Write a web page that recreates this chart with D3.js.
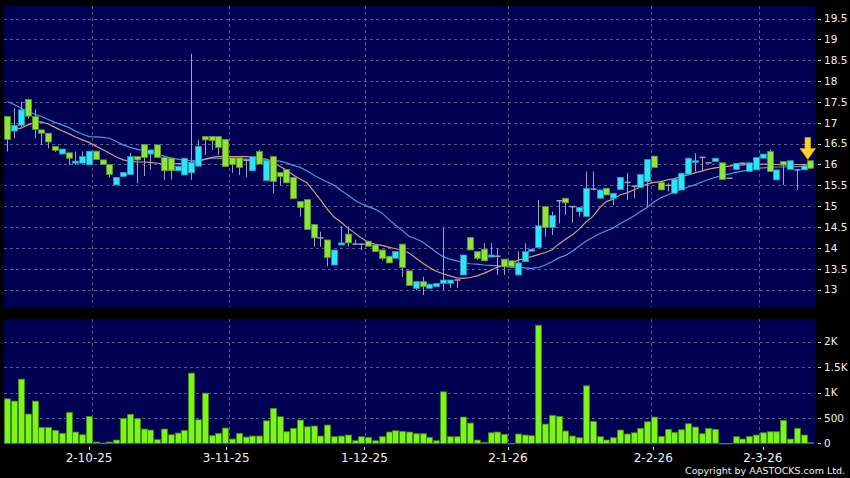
<!DOCTYPE html>
<html><head><meta charset="utf-8">
<script src="https://cdn.jsdelivr.net/npm/d3@7"></script>
<style>html,body{margin:0;padding:0;background:#000;}svg{display:block;}</style>
</head><body>
<svg id="chart" width="850" height="478"></svg>
<script>
// ---- data ----
const opens  = [17.15,16.80,16.94,17.56,17.15,16.83,16.75,16.43,16.25,16.28,16.03,16.03,15.99,16.32,16.11,16.00,15.51,15.71,15.76,16.19,16.48,16.25,16.47,16.17,16.15,15.85,15.75,15.80,15.96,16.67,16.67,16.67,16.60,16.16,16.16,16.10,15.85,16.31,15.61,16.19,15.81,15.88,15.69,15.11,15.16,14.56,14.24,14.19,13.59,14.07,14.33,14.09,14.09,14.16,14.07,13.95,13.80,13.75,14.09,13.45,13.03,13.19,13.03,13.07,13.15,13.15,13.23,13.35,14.25,13.91,13.97,13.78,13.80,13.73,13.69,13.35,13.67,13.92,14.01,14.99,14.49,15.13,15.19,14.99,14.87,14.75,15.41,15.19,15.43,15.19,15.40,15.57,15.48,15.45,15.59,16.20,15.57,15.50,15.31,15.39,15.77,16.05,16.17,16.04,16.07,16.04,15.67,15.88,16.03,15.83,15.87,16.15,16.31,15.63,16.07,15.88,15.87,15.87,16.09];
const highs  = [17.15,17.35,17.50,17.58,17.32,16.83,16.75,16.43,16.37,16.28,16.31,16.31,16.32,16.32,16.11,16.00,15.69,15.81,16.28,16.19,16.48,16.35,16.47,16.17,16.15,15.96,16.15,18.65,16.59,16.67,16.67,16.67,16.60,16.16,16.16,16.10,16.19,16.35,16.09,16.19,15.81,15.88,15.69,15.11,15.16,14.56,14.39,14.19,13.95,14.52,14.51,14.20,14.09,14.16,14.07,13.95,13.80,13.91,14.09,13.45,13.19,13.31,13.13,13.15,14.48,13.23,13.23,13.83,14.25,13.91,14.11,14.11,13.99,13.73,13.69,13.91,14.11,13.97,15.15,14.99,14.87,15.15,15.19,14.99,14.97,15.83,15.83,15.39,15.43,15.31,15.69,15.80,15.48,15.76,16.12,16.20,15.57,15.55,15.65,15.79,16.15,16.27,16.17,16.04,16.15,16.04,15.67,16.03,16.03,16.04,16.17,16.25,16.36,15.87,16.07,16.09,15.87,15.97,16.09];
const lows   = [16.31,16.63,16.90,17.10,16.63,16.47,16.39,16.30,16.25,15.99,15.99,16.03,15.99,16.12,16.00,15.69,15.51,15.71,15.76,15.55,15.72,15.87,16.17,15.63,15.64,15.85,15.75,15.63,15.96,16.23,16.35,16.23,15.95,15.80,15.75,15.70,15.85,16.01,15.61,15.31,15.51,15.56,15.18,14.75,14.44,14.03,14.03,13.56,13.59,14.07,14.03,14.09,13.95,14.04,13.91,13.70,13.64,13.75,13.30,13.10,12.99,12.87,13.03,13.07,12.99,13.04,13.04,13.35,13.95,13.71,13.69,13.78,13.35,13.35,13.55,13.35,13.67,13.92,14.01,14.27,14.31,14.59,14.79,14.60,14.75,14.75,15.41,15.19,15.27,15.03,15.40,15.15,15.19,15.45,15.00,15.93,15.39,15.35,15.31,15.39,15.77,15.83,15.83,16.04,16.07,15.64,15.67,15.88,16.03,15.83,15.87,16.15,15.83,15.63,15.51,15.88,15.39,15.87,15.91];
const closes = [16.60,16.94,17.31,17.16,16.84,16.75,16.54,16.34,16.37,16.15,16.08,16.19,16.32,16.12,16.00,15.76,15.69,15.81,16.19,16.11,16.17,16.35,16.17,15.85,15.85,15.96,16.15,16.04,16.43,16.59,16.57,16.41,15.95,16.00,15.93,16.10,16.19,16.01,16.09,15.59,15.71,15.56,15.18,14.97,14.44,14.24,14.24,13.77,13.95,14.12,14.12,14.09,14.09,14.04,13.91,13.75,13.64,13.91,13.53,13.10,13.19,13.07,13.13,13.15,13.23,13.23,13.23,13.83,13.95,13.75,13.69,13.83,13.80,13.55,13.55,13.64,13.91,13.97,14.53,14.49,14.78,15.13,15.08,14.99,14.97,15.43,15.41,15.39,15.27,15.31,15.69,15.57,15.48,15.76,16.12,15.93,15.39,15.50,15.65,15.79,16.15,16.09,16.17,16.04,16.15,15.64,15.67,16.03,16.03,16.04,16.17,16.25,15.83,15.87,15.99,16.09,15.87,15.97,15.91];
const volumes = [876,831,1263,576,831,314,314,255,196,609,222,169,530,25,6,25,65,491,570,484,281,261,71,281,169,202,255,1381,464,988,150,196,301,84,196,124,143,143,444,688,523,228,295,458,326,340,143,360,130,143,163,51,130,118,51,130,222,248,236,222,189,189,118,51,1014,130,130,517,399,65,20,208,222,177,0,183,163,150,2324,379,550,530,242,143,110,1132,432,130,65,110,261,183,208,295,424,517,138,275,216,267,385,320,189,295,275,0,0,130,84,138,163,208,228,228,452,84,295,163,12];
const ma10 = [16.80,16.84,16.87,16.95,17.01,17.02,16.97,16.89,16.81,16.74,16.66,16.59,16.53,16.44,16.36,16.27,16.18,16.11,16.08,16.06,16.06,16.05,16.03,16.01,16.01,16.02,16.03,16.05,16.07,16.12,16.17,16.19,16.19,16.19,16.19,16.19,16.18,16.15,16.13,16.06,15.96,15.87,15.75,15.65,15.56,15.36,15.15,14.93,14.74,14.62,14.48,14.36,14.24,14.14,14.09,14.06,14.02,13.98,13.95,13.88,13.76,13.64,13.53,13.44,13.38,13.33,13.28,13.27,13.29,13.33,13.39,13.46,13.54,13.59,13.64,13.70,13.75,13.79,13.84,13.89,13.95,14.09,14.21,14.31,14.45,14.62,14.75,14.96,15.11,15.17,15.27,15.32,15.39,15.46,15.53,15.57,15.59,15.63,15.66,15.71,15.75,15.80,15.84,15.89,15.92,15.94,15.96,15.98,15.99,16.00,16.00,16.01,16.01,16.00,15.99,15.99,16.00,16.00,16.01];
const ma20 = [17.51,17.44,17.35,17.27,17.21,17.15,17.08,17.01,16.95,16.89,16.80,16.73,16.67,16.66,16.65,16.63,16.55,16.47,16.41,16.37,16.33,16.30,16.25,16.20,16.16,16.13,16.10,16.09,16.10,16.13,16.15,16.15,16.14,16.14,16.13,16.13,16.12,16.11,16.10,16.10,16.08,16.04,15.98,15.93,15.85,15.75,15.66,15.58,15.50,15.38,15.27,15.15,15.06,14.99,14.93,14.84,14.69,14.55,14.42,14.28,14.22,14.14,14.02,13.90,13.79,13.73,13.69,13.65,13.62,13.61,13.59,13.58,13.57,13.55,13.54,13.53,13.52,13.51,13.53,13.59,13.67,13.76,13.82,13.92,14.04,14.16,14.25,14.34,14.41,14.47,14.58,14.67,14.76,14.87,14.97,15.10,15.20,15.27,15.34,15.40,15.46,15.51,15.58,15.64,15.69,15.74,15.77,15.81,15.84,15.87,15.90,15.92,15.93,15.94,15.94,15.95,15.95,15.96,15.96];
// date ticks: gridline sits after bar index, label at a bar position (fractional bar units)
const dateGridIndex  = [12, 32, 52, 73, 94, 110];
const dateLabelPos   = [12, 32.15, 52.45, 73.55, 94.9, 111];
const dateTickLabels = ["2-10-25", "3-11-25", "1-12-25", "2-1-26", "2-2-26", "2-3-26"];
const priceTicks = [13, 13.5, 14, 14.5, 15, 15.5, 16, 16.5, 17, 17.5, 18, 18.5, 19, 19.5];
const volumeTicks = [0, 500, 1000, 1500, 2000];
const volumeTickLabels = ["0", "500", "1K", "1.5K", "2K"];
const markerPos = 117.6;   // arrow marker over the latest bar (bar units)
const markerPrice = 16.12; // arrow tip level

// ---- layout ----
const svg = d3.select("#chart");
const L = 4, R = 815;
const P = {top: 6, bottom: 307};
const V = {top: 319, bottom: 445};
const n = closes.length;
const FONT = "DejaVu Sans, sans-serif";

const x = d3.scaleBand().domain(d3.range(n)).range([L, R - 1.1]).padding(0);
const bw = x.bandwidth();
const cx = i => x(i) + bw / 2;
const xf = d3.scaleLinear().domain([0, n - 1]).range([cx(0), cx(n - 1)]); // fractional bar positions
const y = d3.scaleLinear().domain([12.583, 19.80]).range([P.bottom, P.top]);
const yv = d3.scaleLinear().domain([-33, 2447]).range([V.bottom, V.top]);

svg.append("rect").attr("width", 850).attr("height", 478).attr("fill", "#000");
svg.append("rect").attr("x", L).attr("y", P.top).attr("width", R - L).attr("height", P.bottom - P.top).attr("fill", "#000052");
svg.append("rect").attr("x", L).attr("y", V.top).attr("width", R - L).attr("height", V.bottom - V.top).attr("fill", "#000052");

const gridColor = "#5b5b92";
const dash = "3,3";
svg.append("g").selectAll("line").data(priceTicks).join("line")
  .attr("x1", L).attr("x2", R).attr("y1", d => Math.round(y(d)) + 0.5).attr("y2", d => Math.round(y(d)) + 0.5)
  .attr("stroke", gridColor).attr("stroke-dasharray", dash).attr("stroke-width", 1);
svg.append("g").selectAll("line").data(volumeTicks.filter(d => d > 0)).join("line")
  .attr("x1", L).attr("x2", R).attr("y1", d => Math.round(yv(d)) + 0.5).attr("y2", d => Math.round(yv(d)) + 0.5)
  .attr("stroke", gridColor).attr("stroke-dasharray", dash).attr("stroke-width", 1);
const gx = i => Math.round(x(i) + bw) + 0.5;
[[P.top, P.bottom], [V.top, V.bottom]].forEach(([t, b]) => {
  svg.append("g").selectAll("line").data(dateGridIndex).join("line")
    .attr("x1", gx).attr("x2", gx).attr("y1", t).attr("y2", b)
    .attr("stroke", gridColor).attr("stroke-dasharray", dash).attr("stroke-width", 1);
});

// moving averages
const lineMA = d3.line().x((d, i) => cx(i)).y(d => y(d));
svg.append("path").attr("d", lineMA(ma20)).attr("fill", "none").attr("stroke", "#3f9fe6").attr("stroke-width", 1.2);
svg.append("path").attr("d", lineMA(ma10)).attr("fill", "none").attr("stroke", "#dc9a78").attr("stroke-width", 1.2);

// candles
const idx = d3.range(n);
const colUp = "#2fe3fb", colUpEdge = "#2098b0";
const colDn = "#8ee33c", colDnEdge = "#5c9a25";
const cg = svg.append("g");
cg.selectAll("line.wick").data(idx).join("line").attr("class", "wick")
  .attr("x1", i => Math.round(cx(i)) + 0.5).attr("x2", i => Math.round(cx(i)) + 0.5)
  .attr("y1", i => y(highs[i])).attr("y2", i => y(lows[i]))
  .attr("stroke", "#a3a3b8").attr("stroke-width", 1);
cg.selectAll("rect.body").data(idx.filter(i => opens[i] !== closes[i])).join("rect").attr("class", "body")
  .attr("x", i => Math.round(cx(i)) - 2.5).attr("width", 6)
  .attr("y", i => y(Math.max(opens[i], closes[i])))
  .attr("height", i => Math.max(1, Math.abs(y(opens[i]) - y(closes[i]))))
  .attr("fill", i => closes[i] > opens[i] ? colUp : colDn)
  .attr("stroke", i => closes[i] > opens[i] ? colUpEdge : colDnEdge).attr("stroke-width", 0.8);
cg.selectAll("line.doji").data(idx.filter(i => opens[i] === closes[i])).join("line").attr("class", "doji")
  .attr("x1", i => Math.round(cx(i)) - 2.5).attr("x2", i => Math.round(cx(i)) + 3.5)
  .attr("y1", i => y(closes[i])).attr("y2", i => y(closes[i]))
  .attr("stroke", "#a3a3b8").attr("stroke-width", 1.5);

// volume bars
svg.append("g").selectAll("rect").data(idx).join("rect")
  .attr("x", i => Math.round(cx(i)) - 2.5).attr("width", 6)
  .attr("y", i => yv(volumes[i])).attr("height", i => Math.max(0.6, yv(0) - yv(volumes[i])))
  .attr("fill", "#7cf51a").attr("stroke", "#3f8a10").attr("stroke-width", 0.8);

// arrow marker
const ax = xf(markerPos), ayTip = y(markerPrice);
svg.append("path")
  .attr("d", `M${ax - 2.8},${ayTip - 22} L${ax + 2.8},${ayTip - 22} L${ax + 2.8},${ayTip - 11} L${ax + 7.8},${ayTip - 11} L${ax},${ayTip} L${ax - 7.8},${ayTip - 11} L${ax - 2.8},${ayTip - 11} Z`)
  .attr("fill", "#ffd324").attr("stroke", "#d9a812").attr("stroke-width", 0.6);

// right axis labels
const ty = svg.append("g");
ty.selectAll("line").data(priceTicks).join("line")
  .attr("x1", 818).attr("x2", 821).attr("y1", d => Math.round(y(d)) + 0.5).attr("y2", d => Math.round(y(d)) + 0.5)
  .attr("stroke", "#cfcfcf");
ty.selectAll("text").data(priceTicks).join("text")
  .attr("x", 824).attr("y", d => y(d)).attr("dy", "0.36em")
  .attr("fill", "#f0f0f0").attr("font-family", FONT).attr("font-size", 10.5)
  .text(d => d3.format("~g")(d));
const tv = svg.append("g");
tv.selectAll("line").data(volumeTicks).join("line")
  .attr("x1", 818).attr("x2", 821).attr("y1", d => Math.round(yv(d)) + 0.5).attr("y2", d => Math.round(yv(d)) + 0.5)
  .attr("stroke", "#cfcfcf");
tv.selectAll("text").data(volumeTicks).join("text")
  .attr("x", 824).attr("y", d => yv(d)).attr("dy", "0.36em")
  .attr("fill", "#f0f0f0").attr("font-family", FONT).attr("font-size", 10.5)
  .text((d, i) => volumeTickLabels[i]);

// x axis labels
const tx = svg.append("g");
tx.selectAll("line").data(dateLabelPos).join("line")
  .attr("x1", p => Math.round(xf(p)) + 0.5).attr("x2", p => Math.round(xf(p)) + 0.5).attr("y1", 447).attr("y2", 450)
  .attr("stroke", "#cfcfcf");
tx.selectAll("text").data(dateLabelPos).join("text")
  .attr("x", p => xf(p)).attr("y", 462).attr("text-anchor", "middle")
  .attr("fill", "#f0f0f0").attr("font-family", FONT).attr("font-size", 12)
  .text((d, k) => dateTickLabels[k]);

svg.append("text").attr("x", 845).attr("y", 474).attr("text-anchor", "end")
  .attr("fill", "#f0f0f0").attr("font-family", FONT).attr("font-size", 9.5)
  .text("Copyright by AASTOCKS.com Ltd.");
</script>
</body></html>
